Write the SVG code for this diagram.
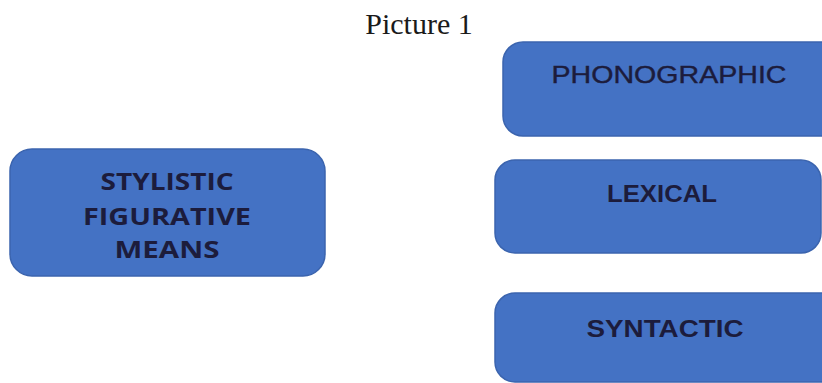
<svg xmlns="http://www.w3.org/2000/svg" width="822" height="383" viewBox="0 0 822 383">
  <style>
    .box { fill: #4472C4; stroke: #3B64AE; stroke-width: 1.5; }
    .lbl { fill: #1C1C3C; font-family: "Liberation Sans", Arial, sans-serif; font-size: 24px; text-anchor: middle; }
    .lblb { font-weight: bold; }
    .main { fill: #1C1C3C; font-family: "Open Sans", "Liberation Sans", sans-serif; font-size: 24px; font-weight: bold; text-anchor: middle; }
    .title { fill: #1a1a1a; font-family: "Liberation Serif", "Times New Roman", serif; font-size: 30px; text-anchor: middle; }
  </style>
  <rect width="822" height="383" fill="#ffffff"/>
  <text class="title" x="419" y="34">Picture 1</text>
  <g id="connectors"></g>
  <g id="node-stylistic">
    <rect class="box" x="10" y="149" width="315" height="127" rx="22" ry="22"/>
    <text class="main" x="167" y="190" textLength="133" lengthAdjust="spacingAndGlyphs">STYLISTIC</text>
    <text class="main" x="167" y="225" textLength="168" lengthAdjust="spacingAndGlyphs">FIGURATIVE</text>
    <text class="main" x="167" y="258" textLength="105" lengthAdjust="spacingAndGlyphs">MEANS</text>
  </g>
  <g id="node-phonographic">
    <rect class="box" x="503" y="42" width="345" height="94" rx="20" ry="20"/>
    <text class="lbl" x="669" y="83" textLength="235" lengthAdjust="spacingAndGlyphs" stroke="#1C1C3C" stroke-width="0.4">PHONOGRAPHIC</text>
  </g>
  <g id="node-lexical">
    <rect class="box" x="495" y="160" width="326" height="93" rx="20" ry="20"/>
    <text class="lbl lblb" x="662" y="202" textLength="110" lengthAdjust="spacingAndGlyphs">LEXICAL</text>
  </g>
  <g id="node-syntactic">
    <rect class="box" x="495" y="293" width="353" height="89" rx="20" ry="20"/>
    <text class="lbl lblb" x="665" y="337" textLength="157" lengthAdjust="spacingAndGlyphs">SYNTACTIC</text>
  </g>
</svg>
